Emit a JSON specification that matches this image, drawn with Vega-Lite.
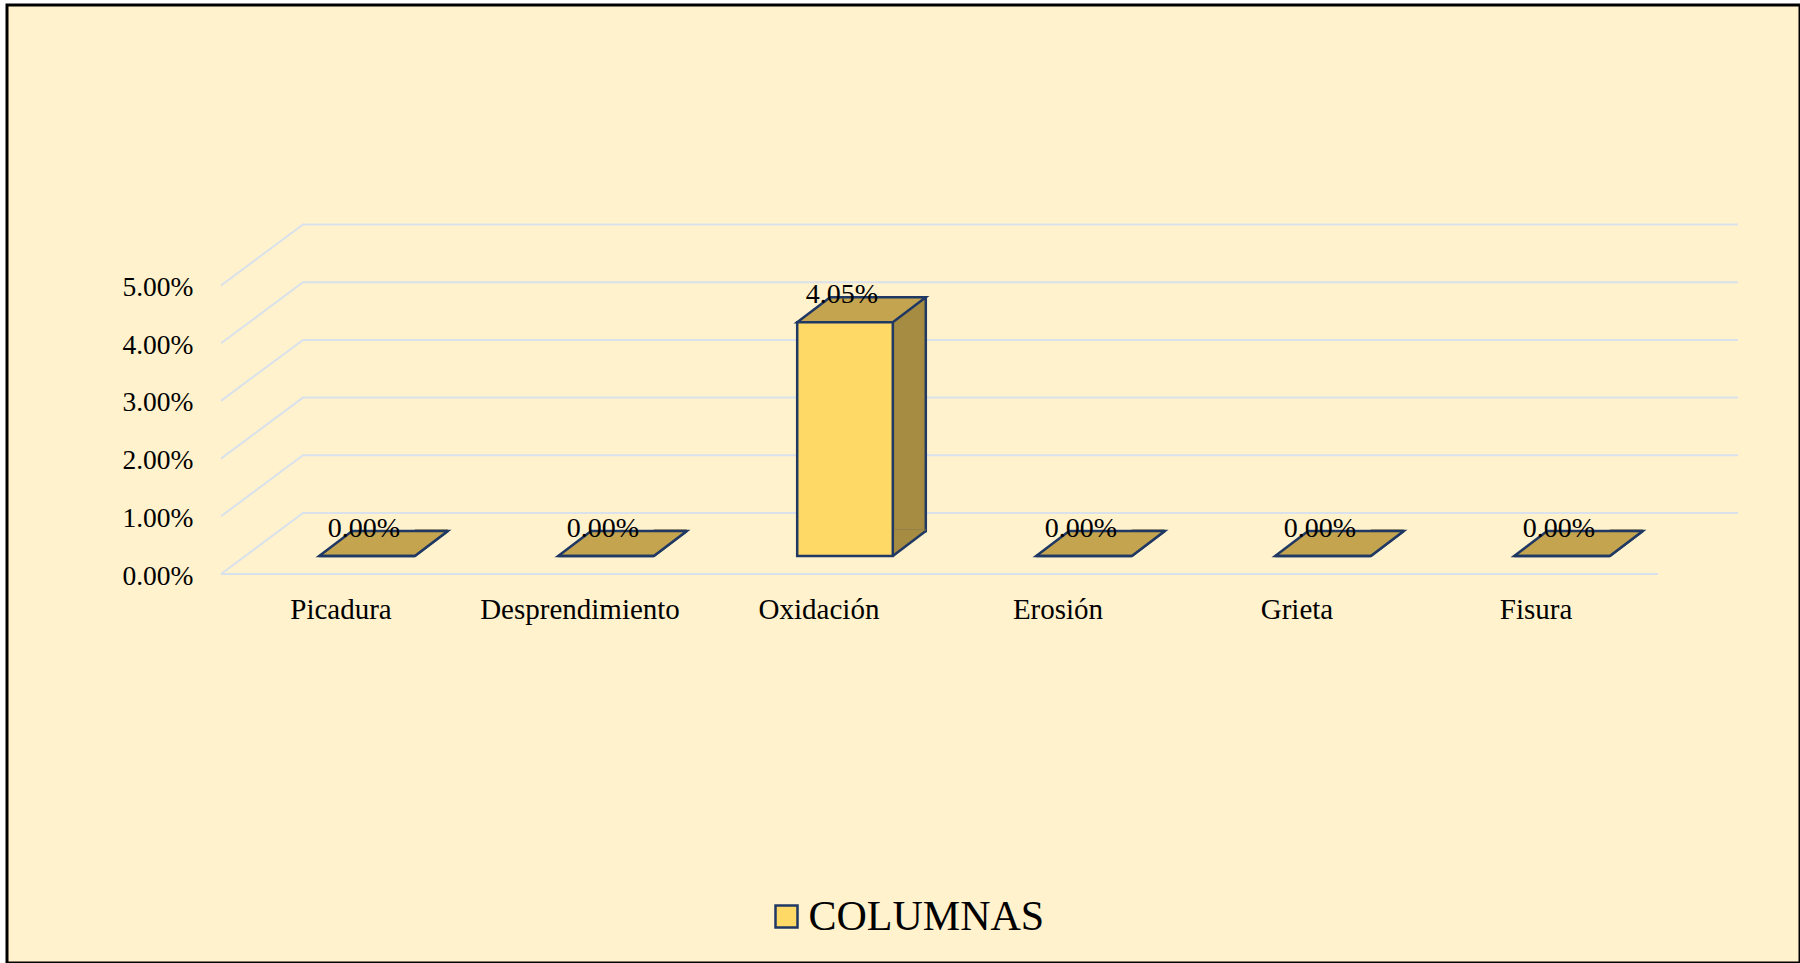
{
  "$schema": "https://vega.github.io/schema/vega-lite/v6.json",
  "autosize": "none",
  "width": 1793,
  "height": 958,
  "padding": {"left": 7, "top": 5, "right": 0, "bottom": 0},
  "background": "white",
  "view": {"fill": "#FFF2CC", "stroke": "black", "strokeWidth": 3},
  "datasets": {
    "bars": [
      {"categoria": "Picadura", "porcentaje": 0},
      {"categoria": "Desprendimiento", "porcentaje": 0},
      {"categoria": "Oxidación", "porcentaje": 0.0405},
      {"categoria": "Erosión", "porcentaje": 0},
      {"categoria": "Grieta", "porcentaje": 0},
      {"categoria": "Fisura", "porcentaje": 0}
    ],
    "grid": [
      {"nivel": 0}, {"nivel": 0.01}, {"nivel": 0.02}, {"nivel": 0.03}, {"nivel": 0.04}, {"nivel": 0.05}
    ]
  },
  "data": {"name": "bars"},
  "layer": [
    {
      "data": {"name": "grid"},
      "mark": {"type": "point", "shape": "M-682.5,18 L-600.5,-43 L834.5,-43", "size": 4, "filled": false, "fill": null, "stroke": "#D9E1EC", "strokeWidth": 2, "opacity": 1},
      "encoding": {
        "y": {"field": "nivel", "type": "quantitative", "scale": {"domain": [0, 0.05], "range": [551, 262.5], "nice": false, "zero": true},
          "axis": {"orient": "left", "values": [0, 0.01, 0.02, 0.03, 0.04, 0.05], "format": ".2%", "domain": false, "ticks": false, "tickSize": 0, "grid": false, "labelPadding": 0, "offset": -186, "labelOffset": 20, "labelFont": "Liberation Serif", "labelFontSize": 27.5, "labelColor": "black", "labelOverlap": false, "labelBound": false, "title": null}}
      }
    },
    {
      "data": {"name": "grid"},
      "transform": [{"filter": "datum.nivel === 0"}],
      "mark": {"type": "point", "shape": "M-682.5,18 L754.5,18", "size": 4, "filled": false, "fill": null, "stroke": "#D9E1EC", "strokeWidth": 2, "opacity": 1},
      "encoding": {
        "y": {"field": "nivel", "type": "quantitative"}
      }
    },
    {
      "mark": {"type": "bar", "width": 33, "xOffset": 64.3, "yOffset": -25, "y2Offset": -25, "fill": "#A68C42", "stroke": "#1F3864", "strokeWidth": 2.5, "opacity": 1},
      "encoding": {
        "x": {"field": "categoria", "type": "nominal", "sort": null,
          "scale": {"range": [240.5, 1674.5], "paddingInner": 0.6, "paddingOuter": 0.3},
          "axis": {"orient": "bottom", "offset": -368, "labelOffset": -26, "labelAngle": 0, "labelLimit": 0, "ticks": false, "tickSize": 0, "domain": false, "grid": false, "labelPadding": 0, "labelFont": "Liberation Serif", "labelFontSize": 29, "labelColor": "black", "title": null}},
        "y": {"field": "porcentaje", "type": "quantitative", "stack": null},
        "y2": {"datum": 0}
      }
    },
    {
      "mark": {"type": "point", "shape": "M47.8,0 L47.8,-26.5 L80.8,-26.5 L80.8,-25 Z", "size": 4, "filled": true, "fill": "#A68C42", "strokeWidth": 0, "opacity": 1},
      "encoding": {
        "x": {"field": "categoria", "type": "nominal", "sort": null},
        "y": {"datum": 0, "type": "quantitative"}
      }
    },
    {
      "mark": {"type": "point", "shape": "M47.8,0 L80.8,-25", "size": 4, "filled": false, "fill": null, "stroke": "#1F3864", "strokeWidth": 2.5, "opacity": 1},
      "encoding": {
        "x": {"field": "categoria", "type": "nominal", "sort": null},
        "y": {"datum": 0, "type": "quantitative"}
      }
    },
    {
      "mark": {"type": "point", "shape": "M-47.8,0 L47.8,0 L80.8,-25 L-14.8,-25 Z", "size": 4, "filled": true, "fill": "#C4A44E", "stroke": "#1F3864", "strokeWidth": 2.5, "opacity": 1},
      "encoding": {
        "x": {"field": "categoria", "type": "nominal", "sort": null},
        "y": {"field": "porcentaje", "type": "quantitative"}
      }
    },
    {
      "mark": {"type": "bar", "stroke": "#1F3864", "strokeWidth": 2.5, "opacity": 1},
      "encoding": {
        "x": {"field": "categoria", "type": "nominal", "sort": null},
        "y": {"field": "porcentaje", "type": "quantitative", "stack": null},
        "fill": {"datum": "COLUMNAS", "type": "nominal", "scale": {"range": ["#FFD966"]},
          "legend": {"orient": "none", "legendX": 758.5, "legendY": 890.5, "title": null, "padding": 0, "symbolType": "square", "symbolSize": 484, "symbolStrokeColor": "#1F3864", "symbolStrokeWidth": 2.5, "symbolOpacity": 1, "labelFont": "Liberation Serif", "labelFontSize": 42, "labelColor": "black", "labelOffset": 1, "labelLimit": 0}}
      }
    },
    {
      "mark": {"type": "text", "dy": -19, "dx": -3, "baseline": "alphabetic", "align": "center", "font": "Liberation Serif", "fontSize": 28, "color": "black"},
      "encoding": {
        "x": {"field": "categoria", "type": "nominal", "sort": null},
        "y": {"field": "porcentaje", "type": "quantitative"},
        "text": {"field": "porcentaje", "type": "quantitative", "format": ".2%"}
      }
    }
  ]
}
